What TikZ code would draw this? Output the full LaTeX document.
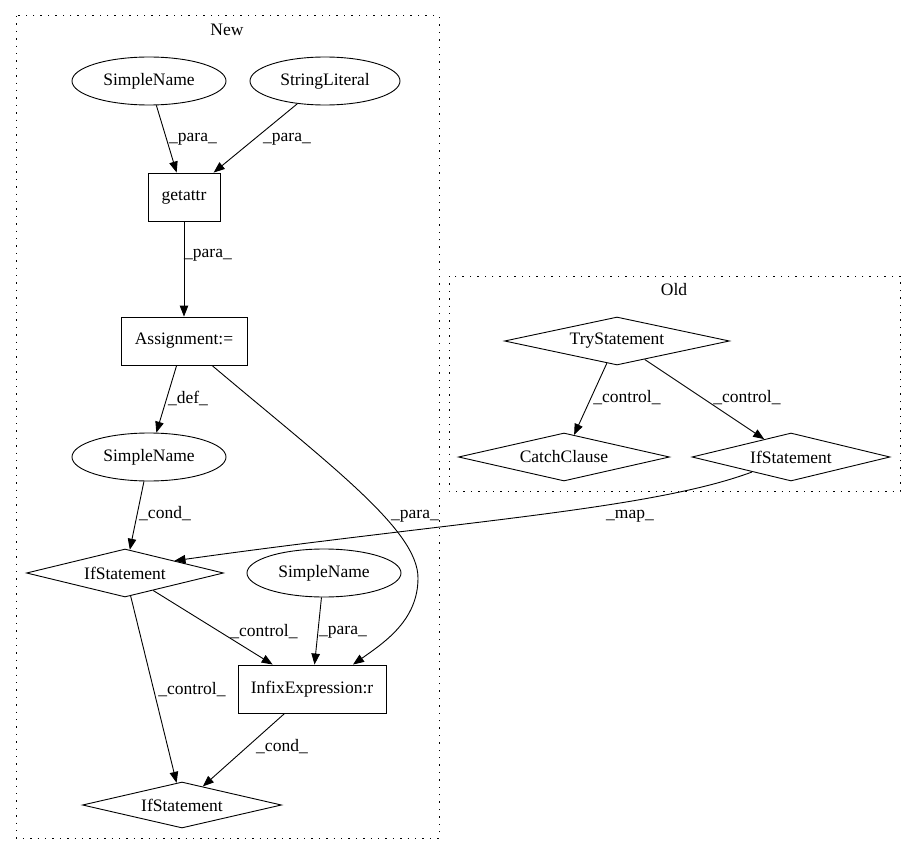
\documentclass[tikz,border=0pt]{standalone}
\usepackage{fontspec}
\setmainfont{Liberation Serif}
\usetikzlibrary{shapes.geometric,arrows.meta,calc}
\begin{document}
\begin{tikzpicture}[x=1pt,y=-1pt,
  every node/.style={font=\fontsize{17.5}{21}\selectfont, inner sep=0pt},
  ell/.style={draw, ellipse, line width=0.9pt, minimum width=154pt, minimum height=48pt},
  box/.style={draw, rectangle, line width=0.9pt, minimum height=48pt},
  dia/.style={draw, diamond, aspect=4, line width=0.9pt, minimum height=48pt},
  edge/.style={draw, line width=0.9pt, -{Triangle[length=11pt,width=8.5pt]}},
  cluster/.style={draw, line width=1pt, dash pattern=on 1.4pt off 6pt},
  lbl/.style={}
]
\useasboundingbox (0,0) rectangle (916,856);
% clusters
\draw[cluster] (16,16) rectangle (439,838);
\node (newlbl) at (227,30) {New};
\draw[cluster] (449,276) rectangle (900,491);
\node (oldlbl) at (674,290) {Old};

% nodes New
\node[ell] (sn1) at (149,81) {SimpleName};
\node[ell, minimum width=150pt] (sl) at (325,81) {StringLiteral};
\node[box, minimum width=72pt] (ga) at (184,197) {getattr};
\node[box, minimum width=126pt] (asg) at (184,341) {Assignment:=};
\node[ell] (sn2) at (149,457) {SimpleName};
\node[dia, minimum width=197pt] (if1) at (125,573) {IfStatement};
\node[ell] (sn3) at (324,573) {SimpleName};
\node[box, minimum width=148pt] (inf) at (312,689) {InfixExpression:r};
\node[dia, minimum width=199pt, minimum height=46pt] (if2) at (182,805) {IfStatement};

% nodes Old
\node[dia, minimum width=225pt] (try) at (617,341) {TryStatement};
\node[dia, minimum width=211pt] (cc) at (564,457) {CatchClause};
\node[dia, minimum width=198pt] (ifo) at (791,457) {IfStatement};

% edges
\path[edge] (sn1) -- (ga);
\path[edge] (sl) -- (ga);
\path[edge] (ga) -- (asg);
\path[edge] (asg) -- (sn2);
\path[edge] (sn2) -- (if1);
\path[edge] (if1) -- (inf);
\path[edge] (sn3) -- (inf);
\path[edge] (if1) -- (if2);
\path[edge] (inf) -- (if2);
\path[edge] (try) -- (cc);
\path[edge] (try) -- (ifo);
\coordinate (asgout) at ($(asg.south)+(28,0)$);
\coordinate (infin) at ($(inf.north)+(41,0)$);
\path[edge] (asgout) .. controls (330,465) and (418,530) .. (418,578)
  .. controls (418,620) and (385,642) .. (infin);
\coordinate (ifoout) at (752,472);
\path[edge] (ifoout) .. controls (650,510) and (450,522) .. (if1.north east);

% edge labels
\node[lbl] (l1) at (193,139) {\_para\_};
\node[lbl] (l2) at (287,139) {\_para\_};
\node[lbl] (l3) at (208,255) {\_para\_};
\node[lbl] (l4) at (188,398) {\_def\_};
\node[lbl] (l5) at (165,514) {\_cond\_};
\node[lbl] (l6) at (415,516) {\_para\_};
\node[lbl] (l7) at (264,632) {\_control\_};
\node[lbl] (l8) at (343,632) {\_para\_};
\node[lbl] (l9) at (192,690) {\_control\_};
\node[lbl] (l10) at (282,747) {\_cond\_};
\node[lbl] (l11) at (627,398) {\_control\_};
\node[lbl] (l12) at (747,398) {\_control\_};
\node[lbl] (l13) at (630,516) {\_map\_};
\end{tikzpicture}
\end{document}
